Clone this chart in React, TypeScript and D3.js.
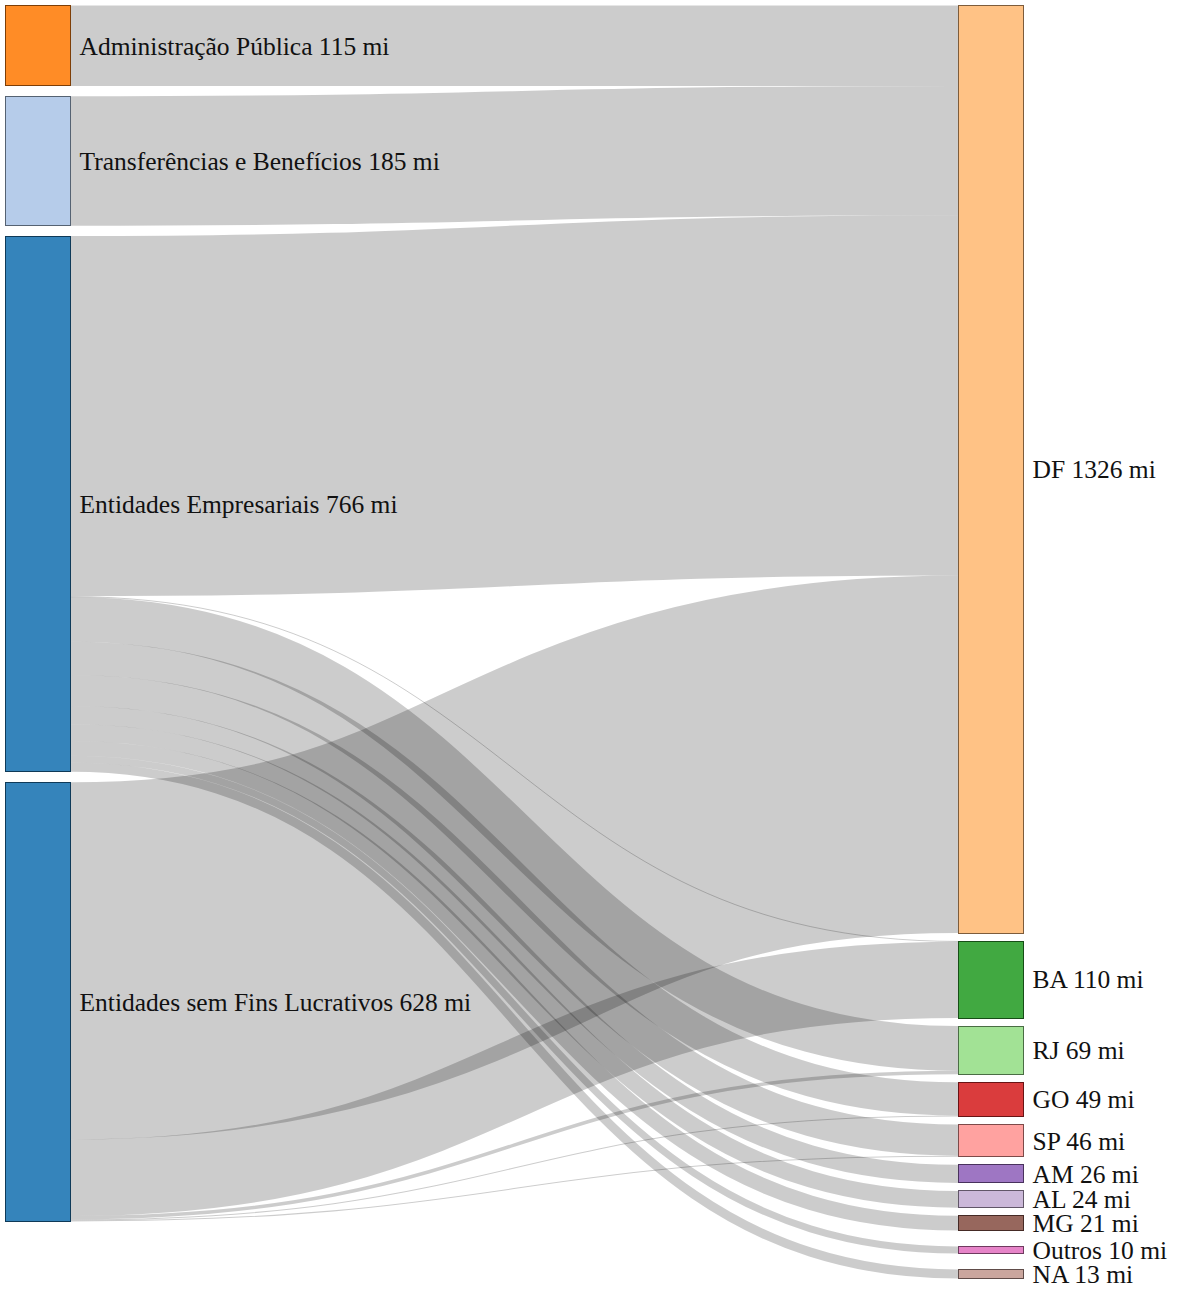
import * as d3 from "d3";

// nodes on the left (origin of the spending) and on the right (state)
const sourceNames = [
  "Administração Pública",
  "Transferências e Benefícios",
  "Entidades Empresariais",
  "Entidades sem Fins Lucrativos",
];
const sourceTotals = [115, 185, 766, 628];

const targetNames = ["DF", "BA", "RJ", "GO", "SP", "AM", "AL", "MG", "Outros", "NA"];
const targetTotals = [1326, 110, 69, 49, 46, 26, 24, 21, 10, 13];

// flows: index into sourceNames -> index into targetNames, value in mi
const flowSource = [0, 1, 2, 2, 2, 2, 2, 2, 2, 2, 2, 2, 3, 3, 3, 3, 3];
const flowTarget = [0, 0, 0, 1, 2, 3, 4, 5, 6, 7, 8, 9, 0, 1, 2, 3, 4];
const flowValue = [115, 185, 515, 1, 64, 47.5, 44.5, 26, 24, 21, 10, 13, 511, 109, 5, 1.5, 1.5];

// colour keyed on first word of the name (category20 order)
const colorKeys = ["Entidades", "Transferências", "Administração", "DF", "BA", "RJ", "GO", "SP", "AM", "AL", "MG", "NA", "Outros"];
const palette = [
  "#1f77b4", "#aec7e8", "#ff7f0e", "#ffbb78", "#2ca02c", "#98df8a", "#d62728",
  "#ff9896", "#9467bd", "#c5b0d5", "#8c564b", "#c49c94", "#e377c2",
];

// spacing between right-hand nodes, in multiples of the base padding
const rightGapUnits = [1, 1, 1, 1, 1, 1, 1, 2, 2];

interface SNode {
  name: string;
  value: number;
  x0: number;
  x1: number;
  y0: number;
  y1: number;
}

interface SLink {
  source: SNode;
  target: SNode;
  value: number;
  width: number;
  sy: number;
  ty: number;
}

const width = 1178;
const height = 1289;
const top = 5.5;
const bottom = 1278.5;
const leftBottom = 1221.5;
const nodeWidth = 65;
const basePadding = 8;

export default function App() {
  const color = d3.scaleOrdinal<string, string>().domain(colorKeys).range(palette);
  const x = d3.scaleLinear().domain([0, 1]).range([5, 958]);
  const total = d3.sum(targetTotals);
  const k = d3
    .scaleLinear()
    .domain([0, total])
    .range([0, bottom - top - basePadding * d3.sum(rightGapUnits)]);

  const stack = (names: string[], totals: number[], depth: number, gaps: number[]): SNode[] => {
    let y = top;
    return names.map((name, i) => {
      const h = k(totals[i]);
      const n = { name, value: totals[i], x0: x(depth), x1: x(depth) + nodeWidth, y0: y, y1: y + h };
      y += h + (gaps[i] ?? 0);
      return n;
    });
  };

  const leftGap = (leftBottom - top - k(d3.sum(sourceTotals))) / (sourceNames.length - 1);
  const left = stack(sourceNames, sourceTotals, 0, sourceNames.map(() => leftGap));
  const right = stack(targetNames, targetTotals, 1, rightGapUnits.map((u) => u * basePadding));

  const links: SLink[] = flowValue.map((v, i) => ({
    source: left[flowSource[i]],
    target: right[flowTarget[i]],
    value: v,
    width: k(v),
    sy: 0,
    ty: 0,
  }));

  left.forEach((n) => {
    let sy = 0;
    links
      .filter((l) => l.source === n)
      .sort((a, b) => a.target.y0 - b.target.y0)
      .forEach((l) => {
        l.sy = sy;
        sy += l.width;
      });
  });
  right.forEach((n) => {
    let ty = 0;
    links
      .filter((l) => l.target === n)
      .sort((a, b) => a.source.y0 - b.source.y0)
      .forEach((l) => {
        l.ty = ty;
        ty += l.width;
      });
  });

  const linkPath = d3.linkHorizontal();
  const nodes = [...left, ...right];

  return (
    <svg
      width={width}
      height={height}
      style={{ position: "absolute", left: 0, top: 0, background: "#fff" }}
    >
      <g fill="none" stroke="#000" strokeOpacity={0.2}>
        {links.map((l, i) => (
          <path
            key={i}
            d={
              linkPath({
                source: [l.source.x1, l.source.y0 + l.sy + l.width / 2],
                target: [l.target.x0, l.target.y0 + l.ty + l.width / 2],
              }) as string
            }
            strokeWidth={Math.max(1, l.width)}
          />
        ))}
      </g>
      <g>
        {nodes.map((n, i) => {
          const c = color(n.name.replace(/ .*/, ""));
          return (
            <g key={i}>
              <rect
                x={n.x0}
                y={n.y0}
                width={nodeWidth}
                height={n.y1 - n.y0}
                fill={c}
                fillOpacity={0.9}
                stroke={d3.rgb(c).darker(2).toString()}
                shapeRendering="crispEdges"
              />
              <text
                x={n.x1 + 9.5}
                y={(n.y0 + n.y1) / 2}
                dy="0.35em"
                fontFamily="'Liberation Serif', 'Times New Roman', serif"
                fontSize={25.5}
                fill="#111"
              >
                {`${n.name} ${n.value} mi`}
              </text>
            </g>
          );
        })}
      </g>
    </svg>
  );
}
